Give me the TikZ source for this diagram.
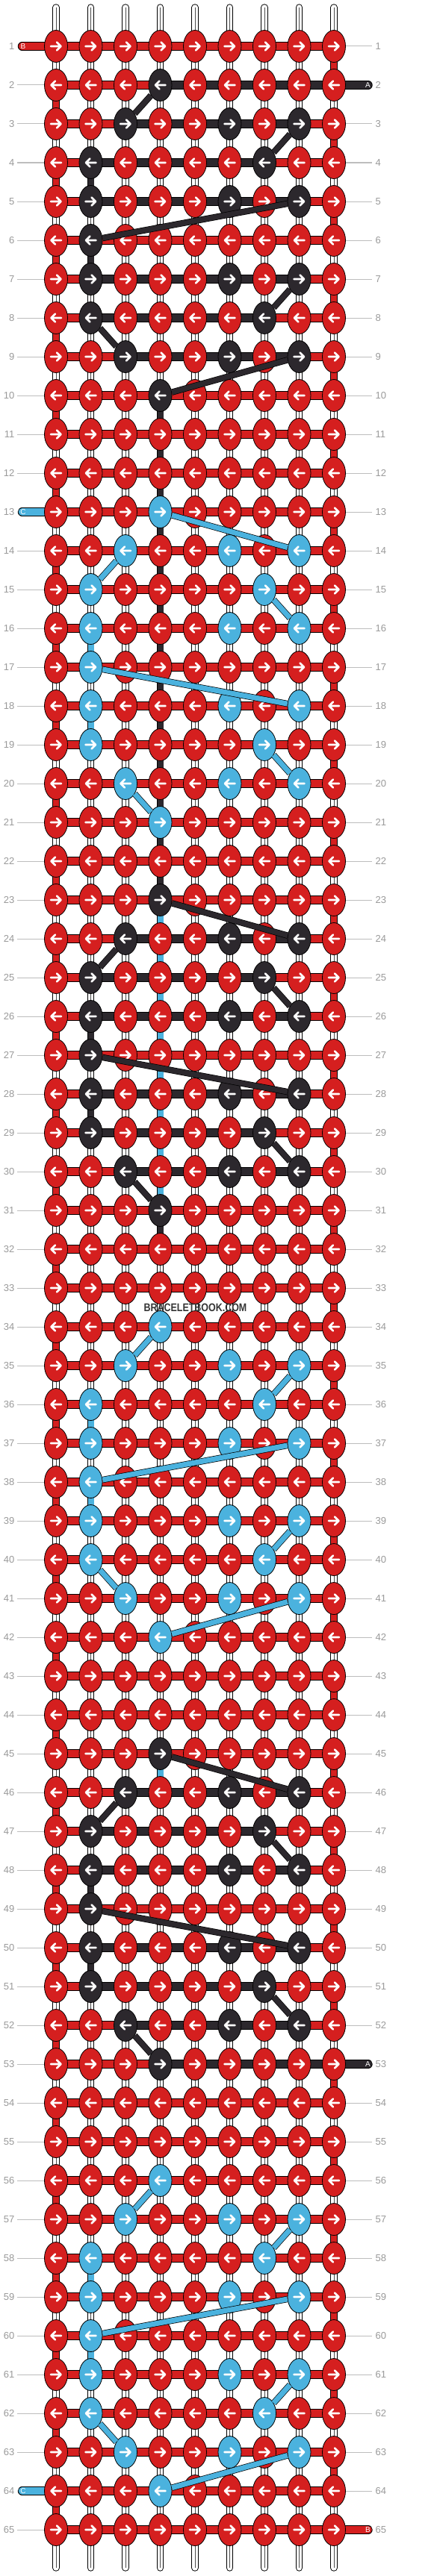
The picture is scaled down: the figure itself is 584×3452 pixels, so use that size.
\documentclass[tikz,border=0pt]{standalone}
\usepackage{fontspec}
\setmainfont{Liberation Sans}
\usetikzlibrary{shapes.geometric,backgrounds}
\definecolor{colR}{HTML}{D51F1F}
\definecolor{colK}{HTML}{2C282D}
\definecolor{colB}{HTML}{4BB2DE}
\definecolor{lblgray}{HTML}{9A9A9A}
\definecolor{linegray}{HTML}{BDBDBD}
\definecolor{wmark}{HTML}{353535}
\newcommand\mtfcols[1]{\ifcase#1 4\or 3,6,8\or 2,7\or 2,6,8\or 2\or 2,6,8\or 2,7\or 3,6,8\or 4\fi}
\begin{document}
\begin{tikzpicture}[x=1pt,y=-1pt,
  knot/.style={ellipse, draw=black, line width=0.8pt, minimum width=31pt, minimum height=43pt, inner sep=0pt},
  arrR/.style={path picture={\draw[white,line width=2.6pt,line cap=round,line join=round,shift={(path picture bounding box.center)}] (-7,0) -- (6.5,0) (1,-5.5) -- (6.5,0) -- (1,5.5);}},
  arrL/.style={path picture={\draw[white,line width=2.6pt,line cap=round,line join=round,shift={(path picture bounding box.center)}] (7,0) -- (-6.5,0) (-1,-5.5) -- (-6.5,0) -- (-1,5.5);}},
  adir/.code={\ifodd#1\relax\tikzset{arrR}\else\tikzset{arrL}\fi},
  wthr/.style={draw=white, line width=7.4pt, preaction={draw=black, line width=9.4pt}, postaction={draw=black!70, line width=0.7pt}},
  wthrend/.style={draw=white, line width=7.4pt, line cap=round, preaction={draw=black, line width=9.4pt, line cap=round}},
  cthr/.style={draw=#1, line width=8pt, preaction={draw=black, line width=9.8pt}},
  hband/.style={draw=#1, line width=9.6pt, preaction={draw=black, line width=11.4pt}},
  stub/.style={draw=#1, line width=9.6pt, line cap=round, preaction={draw=black, line width=11.4pt, line cap=round}},
  diag/.style={draw=black, line width=0.7pt, double=#1, double distance=7pt},
  gline/.style={draw=linegray, line width=1pt},
  lbl/.style={text=lblgray, font=\fontsize{13}{13}\selectfont, inner sep=0pt},
  stubtxt/.style={text=white, font=\fontsize{10}{10}\selectfont, inner sep=0pt},
]
\useasboundingbox (0,0) rectangle (584,3452);
% ---------- colour tables ----------
\foreach \b/\cl in {2/K,23/K,45/K,13/B,34/B,56/B}{
  \foreach \i in {0,...,8}{
    \pgfmathtruncatemacro\rr{\b+\i}
    \edef\cs{\mtfcols{\i}}
    \foreach \c in \cs {\expandafter\xdef\csname kc-\rr-\c\endcsname{\cl}}
  }
}
\foreach \b in {2,23,45}{
  \foreach \i/\a/\e in {1/3/7,2/2/6,3/2/7,5/2/7,6/2/6,7/3/7}{
    \pgfmathtruncatemacro\rr{\b+\i}
    \foreach \c in {\a,...,\e}{\expandafter\xdef\csname hc-\rr-\c\endcsname{K}}
  }
}
\foreach \r in {2,53}{\foreach \c in {4,...,8}{\expandafter\xdef\csname hc-\r-\c\endcsname{K}}}
\foreach \r in {1,...,64}{\ifodd\r\relax \expandafter\xdef\csname vc-\r-9\endcsname{R}\else \expandafter\xdef\csname vc-\r-1\endcsname{R}\fi}
\foreach \r in {4,6,26,28,48,50}{\expandafter\xdef\csname vc-\r-2\endcsname{K}}
\foreach \r in {16,18,36,38,58,60}{\expandafter\xdef\csname vc-\r-2\endcsname{B}}
\foreach \r in {10,...,22,31,...,44}{\expandafter\xdef\csname vc-\r-4\endcsname{K}}
\foreach \r in {23,...,30,45,...,55}{\expandafter\xdef\csname vc-\r-4\endcsname{B}}
\foreach \r/\cl/\t in {1/R/B,13/B/C,64/B/C}{\expandafter\xdef\csname lst-\r\endcsname{\cl}\expandafter\xdef\csname ltx-\r\endcsname{\t}}
\foreach \r/\cl/\t in {2/K/A,53/K/A,65/R/B}{\expandafter\xdef\csname rst-\r\endcsname{\cl}\expandafter\xdef\csname rtx-\r\endcsname{\t}}
% ---------- knots ----------
\foreach \r in {1,...,65}{
  \foreach \c in {1,...,9}{
    \ifcsname kc-\r-\c\endcsname \edef\kc{col\csname kc-\r-\c\endcsname}\else \def\kc{colR}\fi
    \node[knot, fill=\kc, adir=\r] (k-\r-\c) at ({75+(\c-1)*46.5},{62+(\r-1)*52}) {};
  }
}
% ---------- threads under the knots ----------
\begin{scope}[on background layer]
  \fill[white] (0,0) rectangle (584,3452);
  \foreach \c in {1,...,9}{
    \coordinate (top-\c) at ({75+(\c-1)*46.5},10);
    \coordinate (bot-\c) at ({75+(\c-1)*46.5},3441);
    \draw[wthrend] (top-\c) -- (k-1-\c.center);
    \draw[draw=black!70, line width=0.7pt] (top-\c) -- (k-1-\c.center);
    \draw[wthrend] (k-65-\c.center) -- (bot-\c);
    \draw[draw=black!70, line width=0.7pt] (k-65-\c.center) -- (bot-\c);
  }
  \foreach \r in {1,...,64}{
    \pgfmathtruncatemacro\rn{\r+1}
    \foreach \c in {1,...,9}{
      \ifcsname vc-\r-\c\endcsname
        \edef\vc{col\csname vc-\r-\c\endcsname}
        \draw[cthr=\vc] (k-\r-\c.center) -- (k-\rn-\c.center);
      \else
        \draw[wthr] (k-\r-\c.center) -- (k-\rn-\c.center);
      \fi
    }
  }
  \foreach \r in {1,...,65}{
    \foreach \c in {1,...,8}{
      \pgfmathtruncatemacro\cn{\c+1}
      \ifcsname hc-\r-\c\endcsname \def\hc{colK}\else \def\hc{colR}\fi
      \draw[hband=\hc] (k-\r-\c.center) -- (k-\r-\cn.center);
    }
  }
  \foreach \r in {1,...,65}{
    \pgfmathsetmacro\yy{62+(\r-1)*52}
    \ifcsname lst-\r\endcsname
      \edef\sc{col\csname lst-\r\endcsname}
      \edef\st{\csname ltx-\r\endcsname}
      \coordinate (ls-\r) at (29.5,\yy);
      \draw[stub=\sc] (ls-\r) -- (k-\r-1.center);
      \node[stubtxt] (lt-\r) at (31,\yy) {\st};
    \else
      \coordinate (gl-\r) at (23,\yy);
      \draw[gline] (gl-\r) -- (k-\r-1.center);
    \fi
    \ifcsname rst-\r\endcsname
      \edef\sc{col\csname rst-\r\endcsname}
      \edef\st{\csname rtx-\r\endcsname}
      \coordinate (rs-\r) at (493,\yy);
      \draw[stub=\sc] (k-\r-9.center) -- (rs-\r);
      \node[stubtxt] (rt-\r) at (492.5,\yy) {\st};
    \else
      \coordinate (gr-\r) at (498,\yy);
      \draw[gline] (k-\r-9.center) -- (gr-\r);
    \fi
  }
\end{scope}
% ---------- diagonals ----------
\foreach \b/\cl in {2/K,34/B,56/B}{
  \foreach \ia/\ca/\ib/\cb in {0/4/1/3,1/8/2/7,3/8/4/2,5/8/6/7,6/2/7/3,7/8/8/4}{
    \pgfmathtruncatemacro\ra{\b+\ia}
    \pgfmathtruncatemacro\rb{\b+\ib}
    \draw[diag=col\cl] (k-\ra-\ca) -- (k-\rb-\cb);
  }
}
\foreach \b/\cl in {23/K,45/K,13/B}{
  \foreach \ia/\ca/\ib/\cb in {0/4/1/8,1/3/2/2,2/7/3/8,4/2/5/8,6/7/7/8,7/3/8/4}{
    \pgfmathtruncatemacro\ra{\b+\ia}
    \pgfmathtruncatemacro\rb{\b+\ib}
    \draw[diag=col\cl] (k-\ra-\ca) -- (k-\rb-\cb);
  }
}
% ---------- row numbers ----------
\foreach \r in {1,...,65}{
  \pgfmathsetmacro\yy{62+(\r-1)*52}
  \node[lbl, anchor=east] (ln-\r) at (19.5,\yy) {\r};
  \node[lbl, anchor=west] (rn-\r) at (502.5,\yy) {\r};
}
% ---------- watermark ----------
\node[text=wmark, inner sep=0pt, font=\bfseries\fontsize{15}{15}\selectfont] (wm) at (261.5,1752) {\scalebox{0.83}[1]{BRACELETBOOK.COM}};
\end{tikzpicture}
\end{document}
